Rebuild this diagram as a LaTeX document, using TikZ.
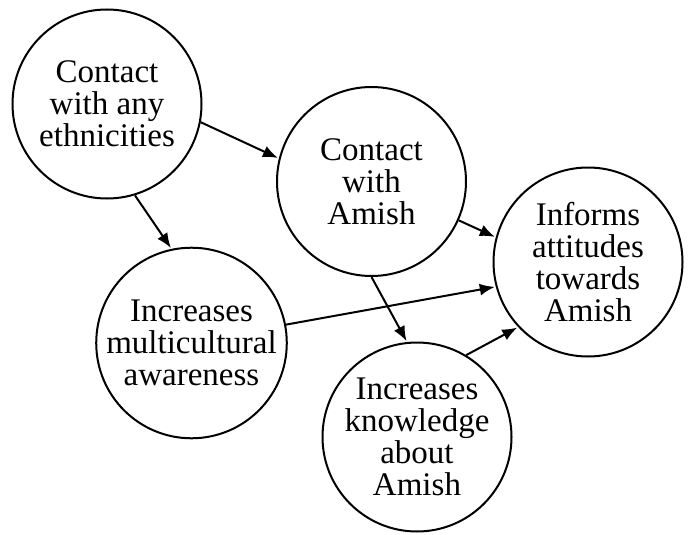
\documentclass[tikz,border=0pt]{standalone}
\usepackage{fontspec}
\setmainfont{Liberation Serif}
\usetikzlibrary{arrows.meta}
\begin{document}
\begin{tikzpicture}[x=1pt, y=-1pt,
    idea/.style={circle, draw, line width=2pt, minimum size=189pt, inner sep=0pt,
      align=center, font=\fontsize{33}{32}\selectfont},
    every edge/.style={draw, line width=2pt, -{Latex[length=15pt,width=12pt]}, shorten >=1pt}]
    \useasboundingbox (0,0) rectangle (688,535);
    \node[idea] (A0_0) at (107, 104) {Contact\\with any\\ethnicities};
    \node[idea] (A1_1) at (371.5, 181.5) {Contact\\with\\Amish};
    \node[idea] (A1_2) at (588, 262) {Informs\\attitudes\\towards\\Amish};
    \node[idea] (A2_0) at (191.5, 343) {Increases\\multicultural\\awareness};
    \node[idea] (A2_1) at (417, 437) {Increases\\knowledge\\about\\Amish};
    \path (A0_0.-11) edge (A1_1.166);
    \path (A0_0.-73) edge (A2_0.102);
    \path (A1_1.-24) edge (A1_2.165);
    \path (A2_0.11) edge (A1_2.-165);
    \path (A1_1.-90) edge (A2_1.96);
    \path (A2_1.59) edge (A1_2.223);
  \end{tikzpicture}
\end{document}
